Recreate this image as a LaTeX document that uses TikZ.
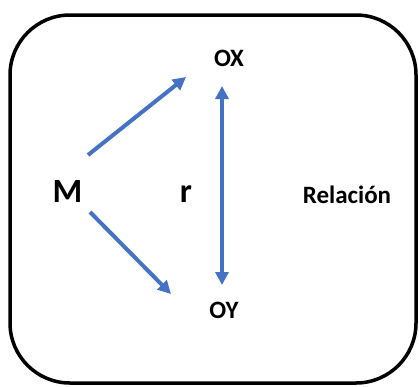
\documentclass[tikz,border=0pt]{standalone}
\usepackage{fontspec}
\setmainfont{Carlito}
\usetikzlibrary{arrows.meta}
\definecolor{arrowblue}{HTML}{4472C4}
\begin{document}
\begin{tikzpicture}[x=1pt,y=-1pt,
  lbl/.style={inner sep=0pt, text=black, anchor=base},
  small/.style={lbl, font=\bfseries\fontsize{25}{25}\selectfont},
  big/.style={lbl, font=\bfseries\fontsize{34}{34}\selectfont},
  link/.style={draw=arrowblue, line width=4pt, -{Triangle[length=13pt,width=13pt]}},
  both/.style={draw=arrowblue, line width=4pt, {Triangle[length=13pt,width=13pt]}-{Triangle[length=13pt,width=13pt]}}]
  \useasboundingbox (0,0) rectangle (419,386);
  % outer frame
  \draw[line width=3.5pt, rounded corners=60pt] (10,15) rectangle (416,383);
  % labels
  \node[small] (ox) at (229,66) {OX};
  \node[small] (oy) at (224,318) {OY};
  \node[big] (m) at (67.5,202) {M};
  \node[big] (r) at (186,202) {r};
  \node[small] (rel) at (347,203) {Relación};
  % arrow anchors
  \coordinate (m1) at (88,155);
  \coordinate (m2) at (90,212);
  \coordinate (x1) at (186,77);
  \coordinate (y1) at (171,294);
  \coordinate (xt) at (222,86);
  \coordinate (yb) at (222,285);
  \draw[link] (m1) -- (x1);
  \draw[link] (m2) -- (y1);
  \draw[both] (yb) -- (xt);
\end{tikzpicture}
\end{document}
